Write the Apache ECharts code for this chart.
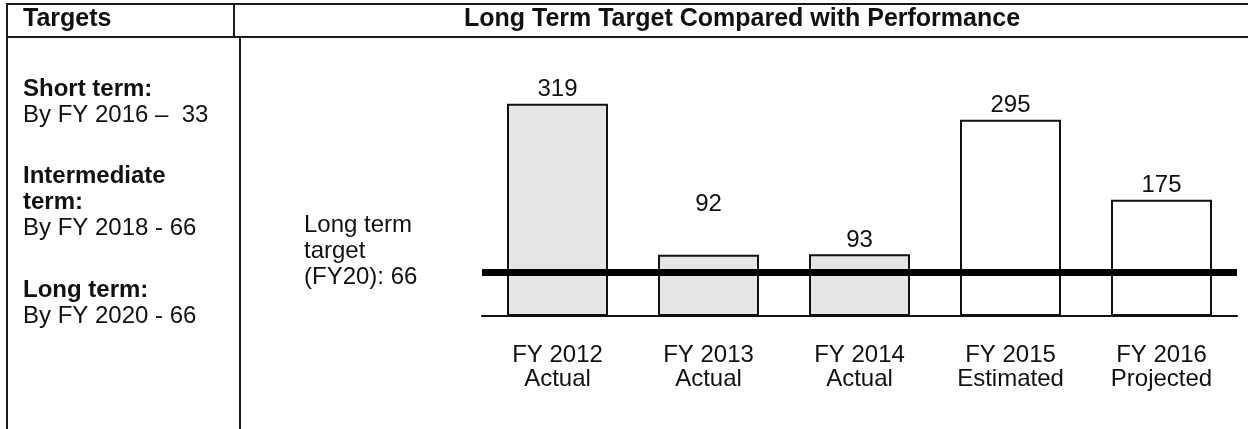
<!DOCTYPE html>
<html>
<head>
<meta charset="utf-8">
<script src="https://cdn.jsdelivr.net/npm/echarts@6/dist/echarts.min.js"></script>
<style>
  html, body { margin: 0; padding: 0; background: #fff; }
  #main { width: 1248px; height: 429px; }
</style>
</head>
<body>
<div id="main"></div>
<script>
var years = ['FY 2012', 'FY 2013', 'FY 2014', 'FY 2015', 'FY 2016'];
var stages = ['Actual', 'Actual', 'Actual', 'Estimated', 'Projected'];
var values = [319, 92, 93, 295, 175];
var longTermTarget = 66;

var headerLeft = 'Targets';
var headerRight = 'Long Term Target Compared with Performance';
var targetTitles = ['Short term:', 'Intermediate\nterm:', 'Long term:'];
var targetLines = ['By FY 2016 \u2013  33', 'By FY 2018 - 66', 'By FY 2020 - 66'];
var targetNote = 'Long term\ntarget\n(FY20): 66';

var FONT = '"Liberation Sans", Arial, Helvetica, sans-serif';

var categories = [];
for (var i = 0; i < years.length; i++) {
    categories.push(years[i] + '\n' + stages[i]);
}

/** bar items, actual years get the grey fill */
var barData = [];
for (var i = 0; i < values.length; i++) {
    var item = {
        value : values[i],
        itemStyle : {
            color : stages[i] == 'Actual' ? '#e6e6e6' : '#ffffff'
        }
    };
    // the 92 label sits well above its bar in the original
    if (i == 1) {
        item.label = { distance : 38 };
    }
    barData.push(item);
}

var lineColor = '#1a1a1a';
var graphics = [
    { type : 'line', shape : { x1 : 6, y1 : 4, x2 : 1248, y2 : 4 }, style : { stroke : lineColor, lineWidth : 2 } },
    { type : 'line', shape : { x1 : 6, y1 : 37, x2 : 1248, y2 : 37 }, style : { stroke : lineColor, lineWidth : 2 } },
    { type : 'line', shape : { x1 : 7, y1 : 3, x2 : 7, y2 : 429 }, style : { stroke : lineColor, lineWidth : 2 } },
    { type : 'line', shape : { x1 : 234, y1 : 4, x2 : 234, y2 : 37 }, style : { stroke : lineColor, lineWidth : 2 } },
    { type : 'line', shape : { x1 : 240, y1 : 37, x2 : 240, y2 : 429 }, style : { stroke : lineColor, lineWidth : 2 } },
    { type : 'text', left : 23, top : 7, style : { text : headerLeft, font : 'bold 25px ' + FONT, fill : '#111' } },
    { type : 'text', x : 742, y : 7, style : { text : headerRight, font : 'bold 25px ' + FONT, fill : '#111', align : 'center' } },
    { type : 'text', x : 304, y : 212, style : { text : targetNote, font : '24px ' + FONT, fill : '#111', lineHeight : 26 } }
];

var titleTops = [76, 163, 277];
for (var i = 0; i < targetTitles.length; i++) {
    var nLines = targetTitles[i].split('\n').length;
    graphics.push({ type : 'text', x : 23, y : titleTops[i],
        style : { text : targetTitles[i], font : 'bold 24px ' + FONT, fill : '#111', lineHeight : 26 } });
    graphics.push({ type : 'text', x : 23, y : titleTops[i] + nLines * 26,
        style : { text : targetLines[i], font : '24px ' + FONT, fill : '#111', lineHeight : 26 } });
}

var chart = echarts.init(document.getElementById('main'));
var option = {
    animation : false,
    backgroundColor : '#fff',
    grid : {
        left : 482,
        right : 11,
        top : 50,
        bottom : 113
    },
    xAxis : {
        type : 'category',
        data : categories,
        axisLine : { lineStyle : { color : '#111', width : 2 } },
        axisTick : { show : false },
        axisLabel : {
            margin : 27,
            fontSize : 24,
            lineHeight : 24,
            color : '#111',
            fontFamily : FONT
        }
    },
    yAxis : {
        type : 'value',
        min : 0,
        max : 400,
        show : false
    },
    series : [ {
        type : 'bar',
        barWidth : 101,
        data : barData,
        itemStyle : {
            borderColor : '#111',
            borderWidth : 2
        },
        label : {
            show : true,
            position : 'top',
            distance : 2,
            fontSize : 24,
            color : '#111',
            fontFamily : FONT
        },
        markLine : {
            silent : true,
            symbol : 'none',
            label : { show : false },
            lineStyle : { color : '#000', width : 7, type : 'solid' },
            data : [ { yAxis : longTermTarget } ]
        }
    } ],
    graphic : graphics
};
chart.setOption(option);
</script>
</body>
</html>
